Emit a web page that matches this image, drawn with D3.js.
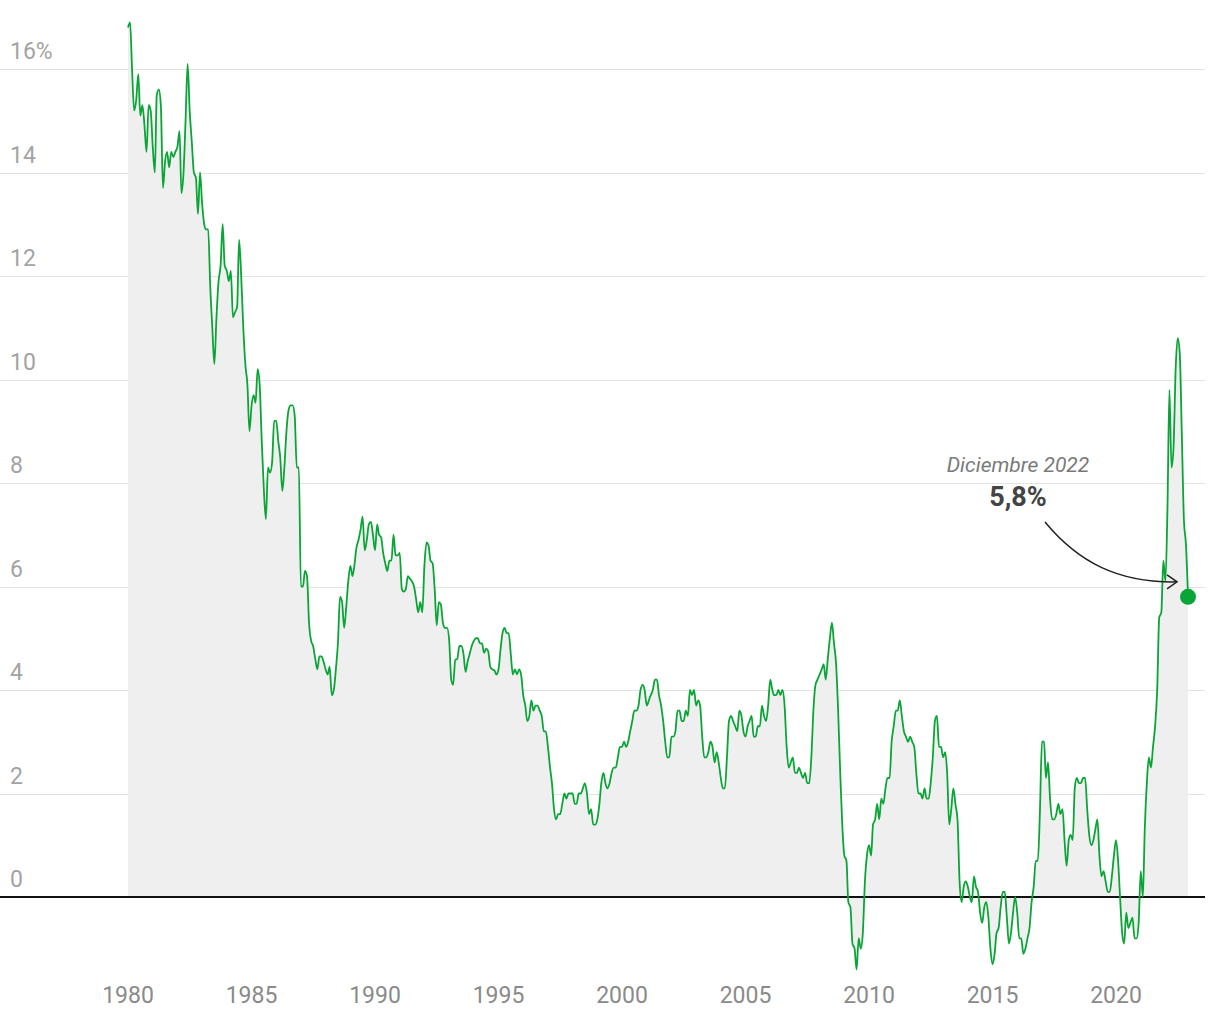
<!DOCTYPE html>
<html lang="es">

<head>
  <meta charset="utf-8">
  <title>IPC interanual España 1980-2022</title>
  <script src="https://d3js.org/d3.v7.min.js"></script>

  <style>

    body {
      margin: 0;
      background: #fff;
      font-family: Roboto, 'Noto Sans', sans-serif;
    }

    .grid line {
      stroke: #e2e2e2;
      stroke-width: 1px;
      shape-rendering: crispEdges;
    }

    .yLabel {
      fill: #a3a3a3;
      font-size: 23px;
    }

    .xLabel {
      fill: #8a8a8a;
      font-size: 23px;
    }

    .baseline {
      stroke: #111;
      stroke-width: 1.5px;
      shape-rendering: crispEdges;
    }

    .note-date {
      fill: #7a7a7a;
      font-size: 21px;
      font-style: italic;
    }

    .note-value {
      fill: #444;
      font-size: 27px;
      font-weight: 700;
    }

  </style>

</head>

<body>

  <div id="chart"></div>

  <script type="text/javascript">

    // first month of the series
    var startYear = 1980;

    // IPC, variación interanual (%), mensual, ene 1980 - dic 2022
    var inflation = [
      16.8, 16.9, 16.0, 15.2, 15.4, 15.9, 15.1, 15.3, 14.9, 14.4, 15.3, 15.2, // 1980
      14.5, 14.0, 15.5, 15.6, 15.3, 13.7, 14.2, 14.4, 14.1, 14.4, 14.3, 14.4, // 1981
      14.5, 14.8, 13.6, 14.0, 15.0, 16.1, 15.2, 14.6, 14.0, 13.9, 13.2, 14.0, // 1982
      13.4, 13.0, 12.9, 12.9, 11.8, 11.0, 10.3, 11.2, 11.9, 12.2, 13.0, 12.2, // 1983
      12.1, 11.9, 12.1, 11.2, 11.3, 11.4, 12.7, 12.0, 11.0, 10.3, 9.9, 9.0,   // 1984
      9.5, 9.7, 9.55, 10.2, 9.9, 8.8, 7.9, 7.3, 8.3, 8.2, 8.4, 9.2,          // 1985
      9.2, 8.8, 8.5, 7.85, 8.3, 9.0, 9.4, 9.5, 9.5, 9.3, 8.3, 8.3,           // 1986
      6.0, 6.0, 6.3, 6.2, 5.3, 4.95, 4.85, 4.6, 4.4, 4.65, 4.65, 4.55,       // 1987
      4.4, 4.3, 4.45, 3.9, 4.0, 4.4, 4.9, 5.8, 5.7, 5.2, 5.6, 6.1,           // 1988
      6.4, 6.2, 6.4, 6.75, 6.9, 7.1, 7.35, 6.7, 6.9, 7.2, 7.25, 7.0,         // 1989
      6.7, 7.2, 7.0, 6.95, 6.65, 6.45, 6.3, 6.5, 6.5, 7.0, 6.6, 6.6,         // 1990
      6.65, 5.95, 5.9, 5.95, 6.2, 6.15, 6.1, 6.0, 5.75, 5.5, 5.7, 5.5,       // 1991
      6.4, 6.85, 6.8, 6.5, 6.45, 5.95, 5.25, 5.7, 5.65, 5.3, 5.2, 5.2,       // 1992
      4.97, 4.2, 4.1, 4.58, 4.6, 4.85, 4.85, 4.7, 4.35, 4.55, 4.7, 4.85,     // 1993
      4.95, 5.0, 5.0, 4.9, 4.9, 4.72, 4.8, 4.75, 4.45, 4.4, 4.38, 4.3,       // 1994
      4.4, 4.8, 5.1, 5.2, 5.1, 5.1, 4.7, 4.3, 4.4, 4.3, 4.4, 4.3,            // 1995
      3.9, 3.7, 3.4, 3.5, 3.8, 3.6, 3.7, 3.7, 3.6, 3.5, 3.2, 3.2,            // 1996
      2.9, 2.5, 2.2, 1.7, 1.5, 1.6, 1.6, 1.8, 2.0, 1.9, 2.0, 2.0,            // 1997
      2.0, 1.8, 1.8, 2.0, 2.0, 2.1, 2.2, 2.0, 1.6, 1.7, 1.4, 1.4,            // 1998
      1.5, 1.8, 2.2, 2.4, 2.2, 2.1, 2.2, 2.4, 2.5, 2.5, 2.7, 2.9,            // 1999
      2.9, 3.0, 2.9, 3.0, 3.2, 3.4, 3.6, 3.6, 3.7, 4.0, 4.1, 4.0,            // 2000
      3.7, 3.8, 3.9, 4.0, 4.2, 4.2, 3.9, 3.7, 3.4, 3.0, 2.7, 2.7,            // 2001
      3.1, 3.1, 3.2, 3.6, 3.6, 3.4, 3.4, 3.6, 3.5, 4.0, 3.9, 4.0,            // 2002
      3.7, 3.8, 3.7, 3.1, 2.7, 2.7, 2.8, 3.0, 2.9, 2.6, 2.8, 2.6,            // 2003
      2.3, 2.1, 2.1, 2.7, 3.4, 3.5, 3.4, 3.3, 3.2, 3.6, 3.5, 3.2,            // 2004
      3.1, 3.3, 3.4, 3.5, 3.1, 3.1, 3.3, 3.3, 3.7, 3.5, 3.4, 3.7,            // 2005
      4.2, 4.0, 3.9, 3.9, 4.0, 3.9, 4.0, 3.7, 2.9, 2.5, 2.6, 2.7,            // 2006
      2.4, 2.4, 2.5, 2.4, 2.3, 2.4, 2.2, 2.2, 2.7, 3.6, 4.1, 4.2,            // 2007
      4.3, 4.4, 4.5, 4.2, 4.6, 5.0, 5.3, 4.9, 4.5, 3.6, 2.4, 1.4,            // 2008
      0.8, 0.7, -0.1, -0.2, -0.9, -1.0, -1.4, -0.8, -1.0, -0.7, 0.3, 0.8,    // 2009
      1.0, 0.8, 1.4, 1.5, 1.8, 1.5, 1.9, 1.8, 2.1, 2.3, 2.3, 3.0,            // 2010
      3.3, 3.6, 3.6, 3.8, 3.5, 3.2, 3.1, 3.0, 3.1, 3.0, 2.9, 2.4,            // 2011
      2.0, 2.0, 1.9, 2.1, 1.9, 1.9, 2.2, 2.7, 3.4, 3.5, 2.9, 2.9,            // 2012
      2.7, 2.8, 2.4, 1.4, 1.7, 2.1, 1.8, 1.5, 0.3, -0.1, 0.2, 0.3,           // 2013
      0.2, 0.0, -0.1, 0.4, 0.2, 0.1, -0.3, -0.5, -0.2, -0.1, -0.4, -1.0,     // 2014
      -1.3, -1.1, -0.7, -0.6, -0.2, 0.1, 0.1, -0.4, -0.9, -0.7, -0.3, 0.0,   // 2015
      -0.3, -0.8, -0.8, -1.1, -1.0, -0.8, -0.6, -0.1, 0.2, 0.7, 0.7, 1.6,    // 2016
      3.0, 3.0, 2.3, 2.6, 1.9, 1.5, 1.5, 1.6, 1.8, 1.6, 1.7, 1.1,            // 2017
      0.6, 1.1, 1.2, 1.1, 2.1, 2.3, 2.2, 2.2, 2.3, 2.3, 1.7, 1.2,            // 2018
      1.0, 1.1, 1.3, 1.5, 0.8, 0.4, 0.5, 0.3, 0.1, 0.1, 0.4, 0.8,            // 2019
      1.1, 0.7, 0.0, -0.7, -0.9, -0.3, -0.6, -0.5, -0.4, -0.8, -0.8, -0.5,   // 2020
      0.5, 0.0, 1.3, 2.2, 2.7, 2.5, 2.9, 3.3, 4.0, 5.4, 5.5, 6.5,            // 2021
      6.1, 7.6, 9.8, 8.3, 8.7, 10.2, 10.8, 10.5, 8.9, 7.3, 6.8, 5.8          // 2022
    ];

    var yearTicks = [1980, 1985, 1990, 1995, 2000, 2005, 2010, 2015, 2020];
    var yTicks = [0, 2, 4, 6, 8, 10, 12, 14, 16];

    var noteDate = 'Diciembre 2022';
    var noteValue = '5,8%';

    var W = 1220;
    var H = 1020;
    var plotLeft = 128;
    var plotRight = 1116;   // x of 2020
    var gridRight = 1205;

    var dataset = inflation.map(function(v, i) {
      return { date: new Date(startYear, i, 1), value: v };
    });

    var xScale = d3.scaleTime()
                   .domain([new Date(1980, 0, 1), new Date(2020, 0, 1)])
                   .range([plotLeft, plotRight]);

    var yScale = d3.scaleLinear()
                   .domain([0, 16])
                   .range([897, 69]);

    var svg = d3.select('#chart')
                .append('svg')
                .attr('width', W)
                .attr('height', H);

    // gridlines + y labels
    var grid = svg.append('g').attr('class', 'grid');

    grid.selectAll('line')
        .data(yTicks.filter(function(d) { return d !== 0; }))
        .enter()
        .append('line')
        .attr('x1', 0)
        .attr('x2', gridRight)
        .attr('y1', function(d) { return Math.round(yScale(d)) + 0.5; })
        .attr('y2', function(d) { return Math.round(yScale(d)) + 0.5; });

    svg.selectAll('.yLabel')
       .data(yTicks)
       .enter()
       .append('text')
       .attr('class', 'yLabel')
       .attr('x', 10)
       .attr('y', function(d) { return yScale(d) - 10; })
       .text(function(d) { return d === 16 ? d + '%' : d; });

    // area under the line
    var area = d3.area()
                 .x(function(d) { return xScale(d.date); })
                 .y0(yScale(0))
                 .y1(function(d) { return yScale(d.value); })
                 .curve(d3.curveMonotoneX);

    svg.append('path')
       .datum(dataset)
       .attr('d', area)
       .attr('fill', '#efefef');

    // zero line
    svg.append('line')
       .attr('class', 'baseline')
       .attr('x1', 0)
       .attr('x2', gridRight)
       .attr('y1', yScale(0))
       .attr('y2', yScale(0));

    var line = d3.line()
                 .x(function(d) { return xScale(d.date); })
                 .y(function(d) { return yScale(d.value); })
                 .curve(d3.curveMonotoneX);

    svg.append('path')
       .datum(dataset)
       .attr('d', line)
       .attr('fill', 'none')
       .attr('stroke', '#0aa537')
       .attr('stroke-width', 1.8)
       .attr('stroke-linejoin', 'round');

    // x labels
    svg.selectAll('.xLabel')
       .data(yearTicks)
       .enter()
       .append('text')
       .attr('class', 'xLabel')
       .attr('x', function(d) { return xScale(new Date(d, 0, 1)); })
       .attr('y', 1003)
       .attr('text-anchor', 'middle')
       .text(function(d) { return d; });

    // last point + annotation
    var last = dataset[dataset.length - 1];
    var lx = xScale(last.date);
    var ly = yScale(last.value);

    svg.append('circle')
       .attr('cx', lx)
       .attr('cy', ly)
       .attr('r', 8)
       .attr('fill', '#0aa537');

    svg.append('text')
       .attr('class', 'note-date')
       .attr('x', 1018)
       .attr('y', 472)
       .attr('text-anchor', 'middle')
       .text(noteDate);

    svg.append('text')
       .attr('class', 'note-value')
       .attr('x', 1018)
       .attr('y', 506)
       .attr('text-anchor', 'middle')
       .text(noteValue);

    var ax = lx - 11;
    var ay = ly - 15;

    svg.append('path')
       .attr('d', 'M1045,522 C1078,562 1118,583 ' + ax + ',' + ay)
       .attr('fill', 'none')
       .attr('stroke', '#222')
       .attr('stroke-width', 1.5);

    svg.append('path')
       .attr('d', 'M' + (ax - 10) + ',' + (ay - 7) + ' L' + ax + ',' + ay + ' L' + (ax - 10) + ',' + (ay + 7))
       .attr('fill', 'none')
       .attr('stroke', '#222')
       .attr('stroke-width', 1.5);

  </script>
</body>

</html>
